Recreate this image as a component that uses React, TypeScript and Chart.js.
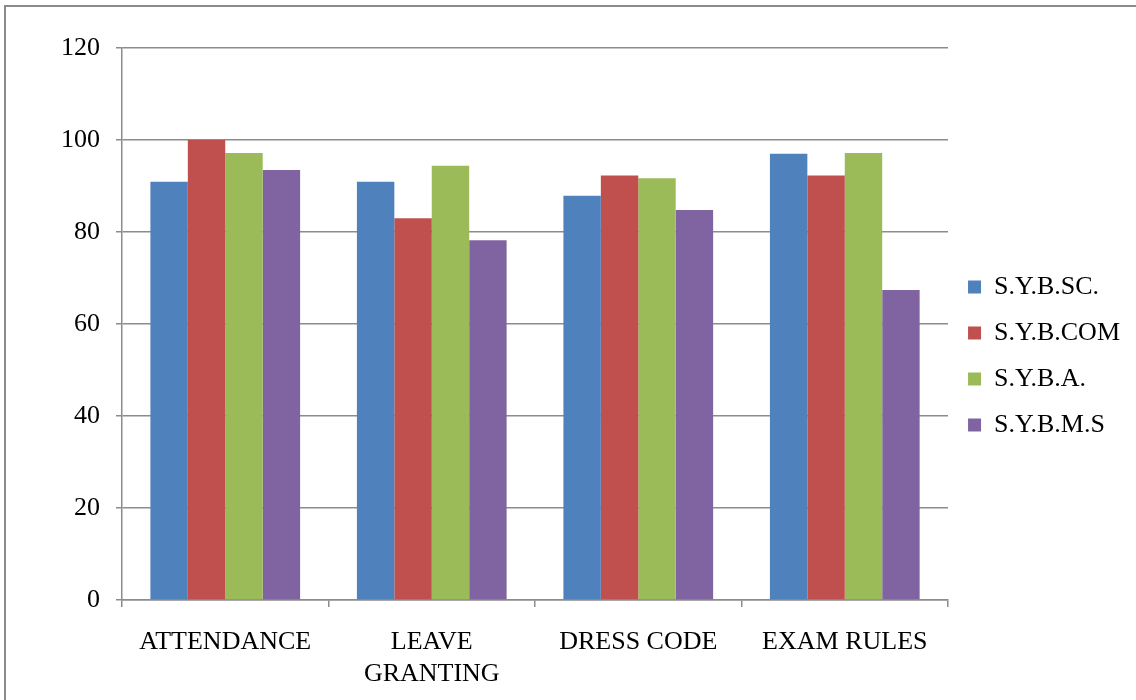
import React, { useEffect, useRef } from "react";
import { Chart, registerables } from "chart.js";

Chart.register(...registerables);

const categories: (string | string[])[] = ["ATTENDANCE", ["LEAVE", "GRANTING"], "DRESS CODE", "EXAM RULES"];
const seriesNames = ["S.Y.B.SC.", "S.Y.B.COM", "S.Y.B.A.", "S.Y.B.M.S"];
const sybsc = [90.9, 90.9, 87.9, 97.0];
const sybcom = [100, 83.0, 92.3, 92.3];
const syba = [97.2, 94.4, 91.7, 97.2];
const sybms = [93.5, 78.2, 84.8, 67.4];
const colors = ["#4F81BD", "#C0504D", "#9BBB59", "#8064A2"];
const yTicks = { min: 0, max: 120, step: 20 };

const FONT = "'Liberation Serif', 'Times New Roman', serif";
const GRID = "#8c8c8c";

const legendShift = {
  id: "legendShift",
  afterLayout(chart: any) {
    const l = chart.legend;
    if (l) {
      l.top -= 18;
      l.bottom -= 18;
    }
  },
};

export default function App() {
  const ref = useRef<HTMLCanvasElement | null>(null);
  useEffect(() => {
    if (!ref.current) return;
    const values = [sybsc, sybcom, syba, sybms];
    const chart = new Chart(ref.current, {
      type: "bar",
      data: {
        labels: categories,
        datasets: values.map((v, i) => ({
          label: seriesNames[i],
          data: v,
          backgroundColor: colors[i],
          borderWidth: 0,
          categoryPercentage: 0.725,
          barPercentage: 1,
        })),
      },
      plugins: [legendShift],
      options: {
        animation: false,
        responsive: false,
        maintainAspectRatio: false,
        layout: { padding: { top: 48, left: 0, right: 6, bottom: 0 } },
        plugins: {
          tooltip: { enabled: false },
          legend: {
            position: "right",
            align: "center",
            labels: {
              boxWidth: 13,
              boxHeight: 13,
              padding: 20,
              color: "#000",
              font: { family: FONT, size: 26 },
            },
          },
        },
        scales: {
          x: {
            afterFit: (s: any) => {
              s.height = 100;
            },
            border: { color: GRID, width: 1.5 },
            grid: {
              offset: true,
              drawOnChartArea: false,
              drawTicks: true,
              tickLength: 7,
              color: GRID,
              lineWidth: 1.5,
            },
            ticks: {
              color: "#000",
              padding: 19,
              maxRotation: 0,
              autoSkip: false,
              font: { family: FONT, size: 26, lineHeight: 1.23 },
            },
          },
          y: {
            min: yTicks.min,
            max: yTicks.max,
            afterFit: (s: any) => {
              s.width = 122;
            },
            border: { color: GRID, width: 1.5 },
            grid: {
              color: GRID,
              lineWidth: 1.5,
              drawTicks: true,
              tickLength: 6,
            },
            ticks: {
              stepSize: yTicks.step,
              color: "#000",
              padding: 16,
              font: { family: FONT, size: 26 },
            },
          },
        },
      },
    });
    return () => chart.destroy();
  }, []);

  return (
    <div style={{ position: "absolute", left: 0, top: 0, width: 1136, height: 700, overflow: "hidden", background: "#fff" }}>
      <div
        style={{
          position: "absolute",
          left: 4,
          top: 5,
          width: 1200,
          height: 800,
          borderLeft: "2px solid #8a8a8a",
          borderTop: "2px solid #8a8a8a",
        }}
      />
      <canvas ref={ref} width={1136} height={700} style={{ position: "absolute", left: 0, top: 0, width: 1136, height: 700 }} />
    </div>
  );
}
